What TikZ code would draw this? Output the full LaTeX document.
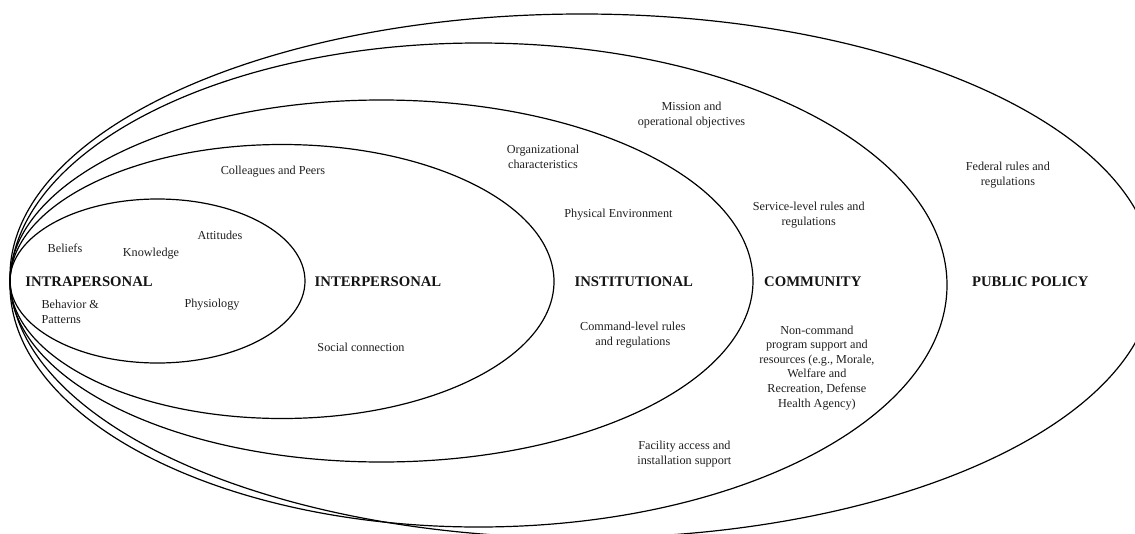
\documentclass[tikz,border=0pt]{standalone}
\usepackage{fontspec}
\setmainfont{Liberation Serif}
\begin{document}
\begin{tikzpicture}[x=1pt,y=-1pt,
  ring/.style={draw=black,line width=1.2pt},
  lbl/.style={inner sep=0pt,align=center,text=black!88,font=\fontsize{12.2}{14.6}\selectfont},
  head/.style={inner sep=0pt,text=black!92,font=\fontsize{14.7}{17}\selectfont\bfseries}]
\useasboundingbox (0,0) rectangle (1135,533);
\begin{scope}
\clip (0,0) rectangle (1135,533);
\draw[ring] (157.5,281) ellipse [x radius=147.5, y radius=82];
\draw[ring] (282,281.5) ellipse [x radius=272, y radius=137];
\draw[ring] (381.5,281) ellipse [x radius=371.5, y radius=181];
\draw[ring] (478.5,285) ellipse [x radius=468.5, y radius=242];
\draw[ring] (582,276) ellipse [x radius=572, y radius=262];
\end{scope}
% level headings
\node[head] (intra) at (89,282) {INTRAPERSONAL};
\node[head] (inter) at (378,282) {INTERPERSONAL};
\node[head] (inst) at (633.8,282) {INSTITUTIONAL};
\node[head] (comm) at (812.8,282) {COMMUNITY};
\node[head] (pub) at (1030.3,282) {PUBLIC POLICY};
% intrapersonal items
\node[lbl] (beliefs) at (65,248) {Beliefs};
\node[lbl] (know) at (151,253.5) {Knowledge};
\node[lbl] (att) at (220,235) {Attitudes};
\node[lbl,align=left,anchor=west] (beh) at (41.4,311.7) {Behavior \&\\Patterns};
\node[lbl] (phys) at (212,304.4) {Physiology};
% interpersonal items
\node[lbl] (coll) at (273,171.4) {Colleagues and Peers};
\node[lbl] (soc) at (361,347) {Social connection};
% institutional items
\node[lbl] (org) at (543,156.8) {Organizational\\characteristics};
\node[lbl] (env) at (618.5,214.8) {Physical Environment};
\node[lbl] (cmd) at (632.8,335.3) {Command-level rules\\and regulations};
% community items
\node[lbl] (miss) at (691.5,115) {Mission and\\operational objectives};
\node[lbl] (serv) at (808.7,215.3) {Service-level rules and\\regulations};
\node[lbl] (noncmd) at (816.9,367.7) {Non-command\\program support and\\resources (e.g., Morale,\\Welfare and\\Recreation, Defense\\Health Agency)};
\node[lbl] (fac) at (684.4,454.2) {Facility access and\\installation support};
% public policy items
\node[lbl] (fed) at (1007.9,174.9) {Federal rules and\\regulations};
\end{tikzpicture}
\end{document}
